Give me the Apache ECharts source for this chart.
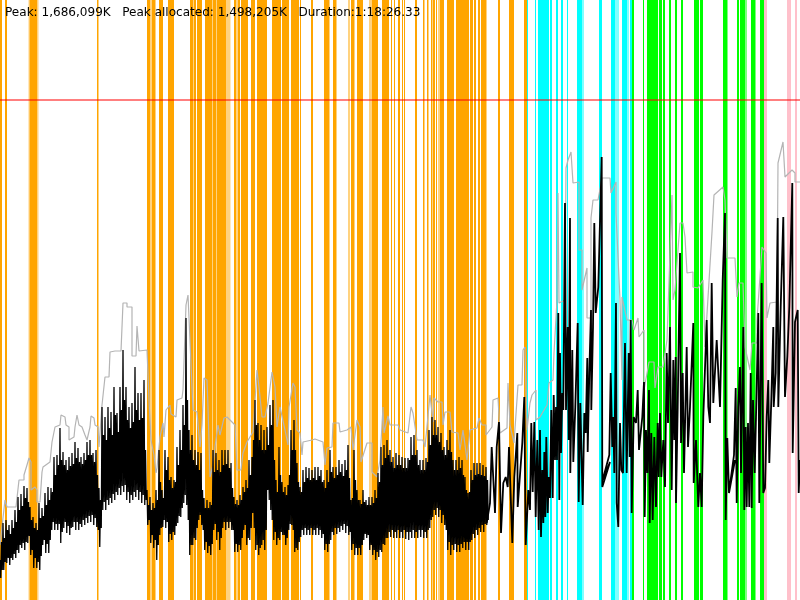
<!DOCTYPE html>
<html><head><meta charset="utf-8"><style>html,body{margin:0;padding:0;background:#fff}#c{width:800px;height:600px}</style>
<script src="https://cdn.jsdelivr.net/npm/echarts@6/dist/echarts.min.js"></script></head><body><div id="c"></div>
<script>
const headline = "Peak: 1,686,099K   Peak allocated: 1,498,205K   Duration:1:18:26.33";
const limitValue = 500;
const orangeBands = [[0,2],[5,7],[29.5,37],[97,98.5],[147,150],[152,155],[159,163],[168,174],[190,193],[194,196],[197,202],[205,212],[213,216],[217,226],[234,236],[238,240],[241,248],[251,255],[257,267],[272,281],[282,289],[291,299],[300,301],[311,313],[324,329],[333,336],[351,354.5],[357,363],[372,378],[382,389],[391,392],[394,395],[398,400],[402,403],[404,405],[415,417],[423,424.5],[427,428.5],[431,432.5],[433,435],[436,437],[440,444],[447,454],[456,469],[470,473],[474,476],[478,480],[481,486],[498,500],[509,514],[524,527]];
const paleOrangeBands = [[28.5,29.5],[37,38.5],[150,152],[155,156],[193,194],[212,213],[216,217],[226,230.5],[236,238],[329,330],[336,337],[348,350],[369,372],[438,440],[486,487]];
const cyanBands = [[527,528],[535,536],[538,549],[550,552],[556,558],[561,563],[567,568],[577,582],[599,602],[611,615],[622,627],[630,632]];
const paleCyanBands = [[582,584],[615,619],[627,629]];
const greenBands = [[632,634],[643,644],[647,658],[659,662],[663,665],[669,671],[675,677],[681,683],[694,699],[700,703],[723,727],[737,739],[740,745],[751,755],[760,764]];
const paleGreenBands = [[727,728],[745,747],[755,756]];
const pinkBands = [[764,767],[787,791],[795,797]];
const highs = [40,77,80,75,80,90,103,106,114,112,93,83,77,97,92,107,113,112,143,145,172,148,140,143,147,158,152,143,147,158,160,147,150,112,193,183,193,188,213,187,213,250,213,193,197,233,207,207,220,110,103,97,110,150,110,150,143,123,120,153,170,195,282,170,165,150,148,147,102,100,98,150,147,140,150,150,150,137,103,100,105,113,120,140,143,200,177,175,170,173,195,200,120,153,118,113,115,170,180,137,113,130,133,132,130,133,133,130,120,130,150,133,133,140,136,140,155,100,150,110,100,110,100,103,103,110,127,153,155,160,150,143,147,145,143,142,142,163,165,150,140,140,142,170,183,180,173,167,153,160,170,140,140,143,140,123,107,130,137,137,137,135,133];
const innerHighs = [58,62,70,66,72,78,90,94,102,98,80,72,70,82,84,95,100,108,125,135,140,135,130,134,136,142,138,136,140,145,145,138,125,100,165,160,172,165,185,168,190,200,180,172,178,190,180,182,150,95,90,92,100,118,102,130,120,112,118,135,150,175,200,150,140,135,130,110,92,92,95,128,130,128,135,136,132,112,96,95,100,108,112,125,160,175,160,150,150,155,175,140,108,125,108,105,125,150,150,118,108,118,122,120,122,120,124,118,112,118,128,122,125,128,124,130,122,102,120,100,96,98,95,95,97,102,118,135,142,145,138,132,135,135,132,132,140,145,145,135,130,130,138,155,165,165,158,150,145,150,148,130,130,132,125,110,108,120,125,126,125,124,120];
const lows = [22,30,37,35,40,42,47,52,50,57,45,32,32,30,55,47,47,70,70,70,57,72,67,65,73,70,70,73,75,77,78,75,73,53,90,90,95,97,100,105,105,108,100,97,100,103,100,97,95,75,57,52,40,65,73,72,58,60,65,77,83,97,95,45,55,60,80,75,50,47,45,70,60,50,72,70,72,70,48,48,50,70,55,60,87,50,45,55,50,110,90,60,55,60,65,55,70,75,48,50,63,65,65,65,65,65,65,62,50,48,60,65,66,68,70,67,65,50,45,45,45,60,62,50,45,40,43,48,55,62,63,62,62,62,62,61,60,62,62,62,63,62,62,72,83,85,83,77,75,50,45,50,48,48,52,50,50,60,62,65,68,68,75];
const innerLows = [30,38,42,42,46,50,55,57,58,64,50,42,38,44,60,56,60,78,76,76,68,78,74,72,78,78,76,80,82,84,85,82,70,72,98,100,102,106,108,112,114,115,108,105,108,110,108,105,100,80,65,60,55,72,80,78,66,68,74,84,92,105,80,55,62,72,85,70,58,54,56,76,68,62,78,78,78,70,56,55,62,75,62,72,72,55,52,60,70,100,80,68,62,68,65,62,76,70,52,58,70,72,70,72,70,72,70,66,56,56,68,72,72,74,76,74,68,56,52,52,55,66,65,55,50,48,50,56,62,68,70,68,70,68,70,68,68,70,68,70,70,68,70,80,90,92,90,85,70,58,55,56,55,56,58,58,58,66,70,72,75,76,80];
const tailX = [486.7,490,491.7,495,496.7,499,501,503.3,505.7,507.7,509,512.3,514.3,517.3,517.7,522.3,524.3,525.7,528.3,
530,531.3,532.7,534.3,535.7,537.3,538.7,540,541,542.3,543.3,544.3,545.3,546.3,547.7,548.7,550,551.3,552.7,553.7,555,556,557,558.3,559.3,560,561,562.3,563.3,565,566,567.7,568.7,570,570.3,572.3,573.3,575.3,577.7,578.7,580.3,581.7,582.7,584.3,585.7,587.3,587.7,589.3,591,591.3,593,594.3,595.7,598.3,601.7,602.3,610,602.7,609.3,610.7,612.3,613.3,614.3,616,616.7,618.3,620,621.3,623,625,626.7,628.7,629.7,630.7,631.7,633.7,636,637.7,639,640.7,642.3,644,644.7,646,647.3,649,649.7,651.3,652.7,654.3,656,657.7,658.7,660,661.3,663.3,665,666.7,668,670,671.7,673.3,674.3,675.7,676,677.7,680,681,682.7,684,686.7,688,690,693.3,693.7,696,698.3,700,701.7,703.3,706.7,708.3,710,711.7,713.3,715,716.7,720,722.7,725,725.7,727.3,729,735,729.7,734,735.7,736.7,738.3,740,741,743.3,744.3,745.7,746.7,748,749.3,750.7,751.7,753,754.7,756,758.3,759.3,761.7,763.3,765,766.7,768.3,769.3,771.3,773.3,773.7,775.7,777.7,778.3,780.7,783.3,785,787.3,789.3,792.3,792.7,795,797.7,798.7,800];
const tailY = [77,97,153,87,153,178,67,117,123,113,153,57,123,167,93,157,203,55,110,
90,177,108,178,83,160,70,170,63,130,77,148,83,163,87,123,102,190,102,205,140,193,140,287,100,247,147,207,190,397,190,273,160,382,127,250,138,193,277,98,197,195,95,187,167,242,148,227,290,190,273,377,287,313,443,113,138,120,145,227,153,183,127,297,97,73,177,130,127,257,127,247,143,280,87,183,177,210,150,167,183,218,83,170,127,210,77,167,80,163,93,177,123,187,123,160,113,247,177,273,110,240,160,243,97,193,347,157,227,127,253,153,193,277,117,160,93,127,93,183,280,193,177,317,197,197,260,193,320,387,80,162,107,140,113,145,212,97,193,233,127,273,90,173,93,177,93,227,92,200,127,183,287,97,317,107,112,183,220,137,200,273,193,227,382,193,293,383,203,243,293,417,147,278,290,107,140];
const grayX = [0,1,5,7,16,19,24,24,27,29,
31,31,35,37,37,40,42,43,50,52,
55,60,61,65,66,69,69,74,75,77,
77,79,82,85,87,90,91,94,95,98,
99,102,104,105,109,110,115,121,123,123,
127,127,132,132,136,137,139,139,147,149,
149,151,153,154,156,157,160,163,164,166,
170,171,176,177,182,183,186,188,190,193,
197,200,202,204,207,208,210,213,215,218,
220,224,227,232,235,237,241,243,247,253,
257,259,262,265,268,272,275,277,280,282,
285,288,289,293,295,297,300,302,303,312,
315,323,325,327,332,333,339,340,347,351,
353,357,360,361,367,372,372,377,380,383,
384,388,390,398,400,408,411,413,417,423,
425,430,433,434,438,442,443,445,450,452,
458,460,463,467,470,477,479,482,486,486,
492,493,498,500,507,508,510,514,518,522,
523,525,527,530,532,536,536,540,547,549,
553,554,557,558,559,565,566,568,571,573,
579,579,582,582,587,587,591,591,593,598,
602,610,611,616,616,617,620,622,622,627,
632,634,638,639,644,644,649,654,655,658,
663,667,672,673,675,680,683,685,687,693,
693,698,703,705,712,714,714,723,725,727,
735,737,739,743,745,750,752,757,757,762,
766,767,770,777,778,783,785,792,795,795,800];
const grayY = [55,57,100,93,93,120,120,125,135,142,
138,110,113,110,98,98,128,133,138,158,
173,175,185,183,175,173,160,163,173,175,
185,175,173,165,160,173,184,182,175,173,
153,195,193,223,223,248,249,249,250,297,
297,293,293,244,244,274,274,249,250,248,
200,160,159,145,127,132,163,177,163,190,
195,186,183,200,202,210,295,305,307,190,
188,153,175,222,220,193,123,135,153,175,
165,182,183,178,175,130,130,147,158,168,
230,213,183,183,197,228,213,173,193,193,
170,155,193,217,213,170,167,145,158,160,
161,158,135,152,153,177,177,168,170,173,
150,180,173,138,157,157,128,123,140,193,
167,184,175,175,170,167,193,187,160,160,
153,205,178,202,198,198,175,188,188,168,
167,150,170,140,170,172,182,175,175,165,
173,200,202,167,172,217,175,157,215,215,
250,253,170,197,205,210,180,183,195,217,
220,247,300,407,297,300,432,440,448,417,
418,350,350,310,332,282,282,382,400,400,
422,422,407,418,387,387,300,220,303,280,
280,270,282,263,270,210,238,238,212,233,
233,260,405,300,310,377,377,363,327,328,
313,312,320,253,368,368,405,413,400,342,
342,303,317,317,253,230,257,257,280,353,
347,282,297,298,437,458,423,430,427,418,418];
function zipPairs(xs, ys){ return xs.map((x,i)=>[x, ys[i]]); }
function buildDense(){
  const out=[];
  for(let i=0;i<highs.length;i++){
    out.push([i*3,highs[i]],[i*3+0.75,lows[i]],[i*3+1.5,innerHighs[i]],[i*3+2.25,innerLows[i]]);
  }
  return out;
}
function bandSeries(name,bands,color,opacity){
  return {name,type:'custom',coordinateSystem:'cartesian2d',z:1,silent:true,animation:false,data:bands,encode:{x:[0,1]},
    renderItem(params,api){
      const a=api.coord([api.value(0),0]), b=api.coord([api.value(1),0]), top=api.coord([0,600]);
      return {type:'rect',shape:{x:a[0],y:top[1],width:b[0]-a[0],height:a[1]-top[1]},style:{fill:color,opacity}};
    }};
}
const chart = echarts.init(document.getElementById('c'),null,{renderer:'canvas'});
chart.setOption({
  animation:false,backgroundColor:'#fff',
  title:{text:headline,left:5,top:7,padding:0,z:10,textStyle:{fontFamily:'"DejaVu Sans"',fontSize:12.06,fontWeight:'normal',color:'#000'}},
  grid:{left:0,right:0,top:0,bottom:0},
  xAxis:{type:'value',min:0,max:800,show:false},
  yAxis:{type:'value',min:0,max:600,show:false},
  series:[
    bandSeries('orange',orangeBands,'#ffa500',1),
    bandSeries('paleOrange',paleOrangeBands,'#ffa500',0.5),
    bandSeries('cyan',cyanBands,'#00ffff',1),
    bandSeries('paleCyan',paleCyanBands,'#00ffff',0.5),
    bandSeries('green',greenBands,'#00ff00',1),
    bandSeries('paleGreen',paleGreenBands,'#00ff00',0.5),
    bandSeries('pink',pinkBands,'#ffc0cb',1),
    {name:'limit',type:'line',data:[],z:6,silent:true,markLine:{silent:true,animation:false,symbol:'none',label:{show:false},
      lineStyle:{color:'rgba(255,0,0,0.5)',width:2,type:'solid'},data:[{yAxis:limitValue}]}},
    {name:'total',type:'line',z:3,silent:true,showSymbol:false,data:zipPairs(grayX,grayY),lineStyle:{color:'#b4b4b4',width:1.2}},
    {name:'allocated',type:'line',z:4,silent:true,showSymbol:false,data:buildDense(),lineStyle:{color:'#000',width:1.3}},
    {name:'allocatedTail',type:'line',z:4,silent:true,showSymbol:false,data:zipPairs(tailX,tailY),lineStyle:{color:'#000',width:1.8}}
  ]
});
</script></body></html>
